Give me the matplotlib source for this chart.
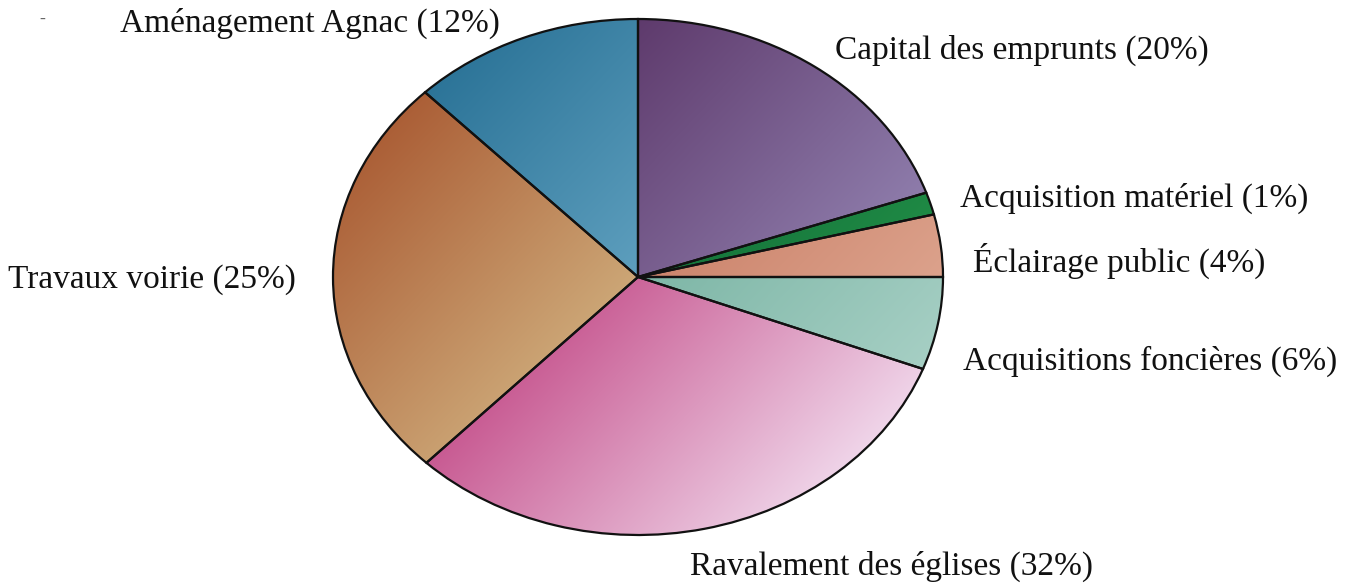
import numpy as np
import matplotlib
matplotlib.use("Agg")
import matplotlib.pyplot as plt
from matplotlib.colors import to_rgb

# ---- data (slice shares, labels as printed) ----
categories = ["Capital des emprunts", "Acquisition matériel", "Éclairage public",
              "Acquisitions foncières", "Ravalement des églises", "Travaux voirie",
              "Aménagement Agnac"]
values = [19.7, 1.4, 3.9, 5.8, 31.4, 25.5, 12.3]
label_pcts = ["20%", "1%", "4%", "6%", "32%", "25%", "12%"]

# gradient colours per slice (top-left -> bottom-right)
grad_start = ["#5e3a6c", "#15733a", "#cc846c", "#7db6a6", "#c85a92", "#ab5e36", "#2c7498"]
grad_end   = ["#8e7cab", "#1f8a45", "#dca28c", "#a6cfc4", "#f0d6ea", "#cca676", "#5e9fbe"]

# label positions (pixels from top-left of figure)
label_xy = [(835, 50), (960, 198), (973, 261), (963, 361), (690, 566), (8, 280), (120, 23)]

W, H = 1355, 586
fig = plt.figure(figsize=(W / 100, H / 100), dpi=100)
fig.patch.set_facecolor("white")

cx, cy = 638, 277           # pie centre in pixels (from top)
rx, ry = 305, 258           # radii in pixels
pad = 1.1
ax = fig.add_axes([(cx - rx * pad) / W, (H - cy - ry * pad) / H,
                   2 * rx * pad / W, 2 * ry * pad / H])

wedges, _ = ax.pie(values, startangle=90, counterclock=False, radius=1.0,
                   wedgeprops=dict(edgecolor="#111111", linewidth=1.6, facecolor="none"))

n = 400
xs = np.linspace(-1, 1, n)
ys = np.linspace(1, -1, n)
X, Y = np.meshgrid(xs, ys)
d = np.array([1.0, -0.8])
d /= np.linalg.norm(d)
P = X * d[0] + Y * d[1]

for w, c0, c1 in zip(wedges, grad_start, grad_end):
    verts = w.get_path().vertices
    proj = verts[:, 0] * d[0] + verts[:, 1] * d[1]
    lo, hi = proj.min(), proj.max()
    t = np.clip((P - lo) / max(hi - lo, 1e-6), 0, 1)[..., None]
    img = np.array(to_rgb(c0)) * (1 - t) + np.array(to_rgb(c1)) * t
    im = ax.imshow(img, extent=(-1, 1, -1, 1), zorder=0.5, interpolation="bilinear")
    im.set_clip_path(w)
    w.set_zorder(2)

ax.set_aspect("auto")
ax.set_xlim(-pad, pad)
ax.set_ylim(-pad, pad)
ax.axis("off")

for cat, pct, (px, py) in zip(categories, label_pcts, label_xy):
    fig.text(px / W, (H - py) / H, f"{cat} ({pct})", ha="left", va="center",
             fontsize=24, family="Liberation Serif", color="#111111")

# small stray dash at the top-left of the scan
fig.text(42 / W, (H - 19) / H, "-", ha="center", va="center", fontsize=13,
         family="Liberation Serif", color="#666666")

fig.savefig("out.png", dpi=100, facecolor="white")
